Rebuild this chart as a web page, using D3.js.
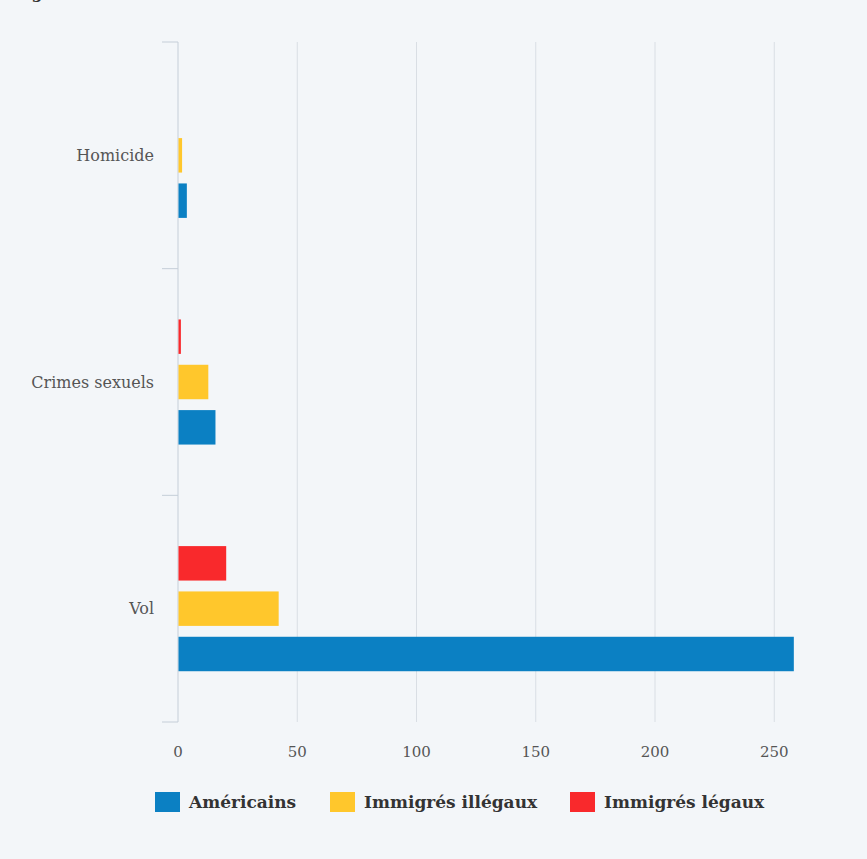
<!DOCTYPE html>
<html>
<head>
<meta charset="utf-8">
<style>
  html, body { margin: 0; padding: 0; background: #f3f6f9; }
  svg { display: block; }
  .tick-label { font-family: "DejaVu Serif", serif; fill: #555; }
</style>
</head>
<body>
<div id="chart"></div>
<script src="https://cdn.jsdelivr.net/npm/d3@7"></script>
<script>
const width = 867, height = 859;

// data
const categories = ["Homicide", "Crimes sexuels", "Vol"];
const seriesNames = ["Américains", "Immigrés illégaux", "Immigrés légaux"];
const seriesColors = ["#0b80c3", "#ffc72c", "#f9292c"];
const americains = [3.5, 15.5, 258];
const illegaux = [1.5, 12.5, 42];
const legaux = [0, 1, 20];
const xTicks = [0, 50, 100, 150, 200, 250, 300];

const seriesValues = [americains, illegaux, legaux];

const margin = { top: 42, left: 178, bottom: 137 };
const plotBottom = height - margin.bottom;

const svg = d3.select("#chart").append("svg")
  .attr("width", width).attr("height", height);

svg.append("rect").attr("width", width).attr("height", height).attr("fill", "#f3f6f9");

// heading, mostly cut off above the frame
svg.append("text")
  .attr("x", 10).attr("y", -2)
  .style("font-family", "DejaVu Serif, serif")
  .style("font-weight", "bold")
  .style("font-size", "16px")
  .attr("fill", "#333")
  .text("Légende");

const x = d3.scaleLinear().domain([0, 300]).range([margin.left, margin.left + 715.5]);
const y0 = d3.scaleBand().domain(categories).range([margin.top, plotBottom]).padding(0);
const step = y0.step();
// bars top to bottom: légaux, illégaux, Américains
const y1 = d3.scaleBand().domain([2, 1, 0])
  .range([0.2 * step, 0.8 * step]).paddingInner(0.24).paddingOuter(0.12);

// grid lines
svg.append("g").selectAll("line").data(xTicks.slice(1)).join("line")
  .attr("x1", d => x(d)).attr("x2", d => x(d))
  .attr("y1", margin.top).attr("y2", plotBottom)
  .attr("stroke", "#d9dee4").attr("stroke-width", 1);

// category axis line and ticks
svg.append("line")
  .attr("x1", x(0)).attr("x2", x(0))
  .attr("y1", margin.top).attr("y2", plotBottom)
  .attr("stroke", "#c5ced8").attr("stroke-width", 1);

const bounds = categories.map(c => y0(c)).concat([plotBottom]);
svg.append("g").selectAll("line").data(bounds).join("line")
  .attr("x1", x(0) - 16).attr("x2", x(0))
  .attr("y1", d => d).attr("y2", d => d)
  .attr("stroke", "#c5ced8").attr("stroke-width", 1);

// category labels
svg.append("g").selectAll("text").data(categories).join("text")
  .attr("x", x(0) - 24)
  .attr("y", d => y0(d) + step / 2)
  .attr("dy", "0.35em")
  .attr("text-anchor", "end")
  .style("font-family", "DejaVu Serif, serif")
  .style("font-size", "16px")
  .attr("fill", "#555")
  .text(d => d);

// bars
const groups = svg.append("g").selectAll("g").data(categories).join("g")
  .attr("transform", d => `translate(0,${y0(d)})`);

groups.selectAll("rect")
  .data((c, ci) => seriesValues.map((vals, si) => ({ si, v: vals[ci] })).filter(d => d.v > 0))
  .join("rect")
  .attr("x", x(0) + 0.5)
  .attr("y", d => y1(d.si))
  .attr("width", d => x(d.v) - x(0))
  .attr("height", y1.bandwidth())
  .attr("fill", d => seriesColors[d.si]);

// x tick labels
svg.append("g").selectAll("text").data(xTicks).join("text")
  .attr("class", "tick-label")
  .attr("x", d => x(d))
  .attr("y", 757)
  .attr("text-anchor", "middle")
  .style("font-size", "15px")
  .text(d => d);

// legend
const legendX = [155, 330, 570];
const legend = svg.append("g").selectAll("g").data(seriesNames).join("g")
  .attr("transform", (d, i) => `translate(${legendX[i]},792)`);
legend.append("rect")
  .attr("width", 25).attr("height", 20)
  .attr("fill", (d, i) => seriesColors[i]);
legend.append("text")
  .attr("x", 34).attr("y", 10).attr("dy", "0.35em")
  .style("font-family", "DejaVu Serif, serif")
  .style("font-weight", "bold")
  .style("font-size", "17px")
  .attr("fill", "#333")
  .text(d => d);
</script>
</body>
</html>
